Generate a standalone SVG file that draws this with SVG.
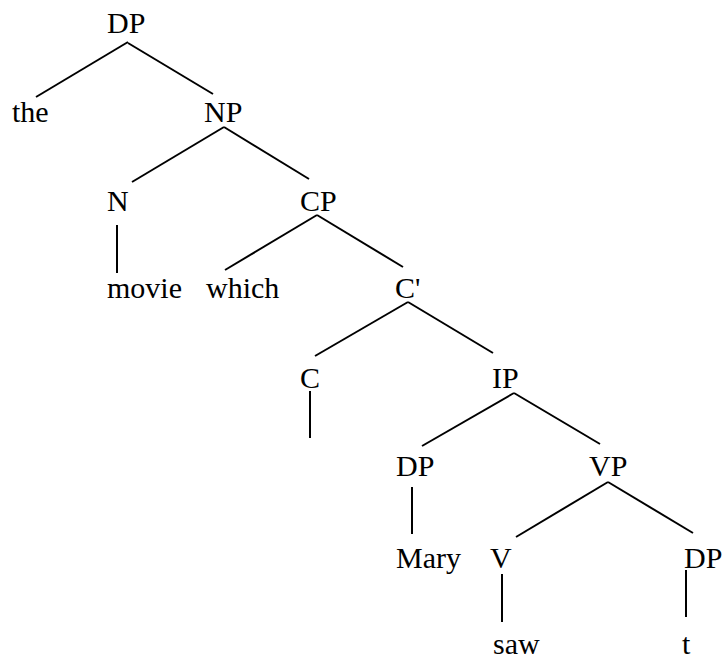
<svg xmlns="http://www.w3.org/2000/svg" width="725" height="654" viewBox="0 0 725 654">
  <style>
    .lbl { font-family: "Liberation Serif", "Times New Roman", serif; font-size: 30px; fill: #000; }
    .edge { stroke: #000; stroke-width: 2; fill: none; }
  </style>
  <rect width="725" height="654" fill="#fff"/>
  <g id="connectors">
    <line class="edge" x1="128" y1="42" x2="36" y2="97"/>
    <line class="edge" x1="128" y1="43" x2="213" y2="94"/>
    <line class="edge" x1="224" y1="127" x2="132" y2="182"/>
    <line class="edge" x1="224" y1="127" x2="309" y2="179"/>
    <line class="edge" x1="117" y1="225" x2="117" y2="273"/>
    <line class="edge" x1="317" y1="215" x2="225" y2="270"/>
    <line class="edge" x1="317" y1="215" x2="403" y2="267"/>
    <line class="edge" x1="408" y1="302" x2="315" y2="356"/>
    <line class="edge" x1="408" y1="302" x2="493" y2="353"/>
    <line class="edge" x1="310" y1="391" x2="310" y2="438"/>
    <line class="edge" x1="514" y1="393" x2="422" y2="446"/>
    <line class="edge" x1="514" y1="393" x2="600" y2="444"/>
    <line class="edge" x1="412" y1="487" x2="412" y2="534"/>
    <line class="edge" x1="608" y1="482" x2="516" y2="537"/>
    <line class="edge" x1="608" y1="482" x2="693" y2="533"/>
    <line class="edge" x1="502" y1="574" x2="502" y2="622"/>
    <line class="edge" x1="686" y1="570" x2="686" y2="617"/>
  </g>
  <g id="n-dp-top"><text class="lbl" x="107" y="33">DP</text></g>
  <g id="n-the"><text class="lbl" x="12" y="122">the</text></g>
  <g id="n-np"><text class="lbl" x="204" y="122">NP</text></g>
  <g id="n-n"><text class="lbl" x="107" y="211">N</text></g>
  <g id="n-cp"><text class="lbl" x="300" y="211">CP</text></g>
  <g id="n-movie"><text class="lbl" x="107" y="298">movie</text></g>
  <g id="n-which"><text class="lbl" x="206" y="298">which</text></g>
  <g id="n-cbar"><text class="lbl" x="395" y="298">C'</text></g>
  <g id="n-c"><text class="lbl" x="300" y="388">C</text></g>
  <g id="n-ip"><text class="lbl" x="492" y="388">IP</text></g>
  <g id="n-dp-subj"><text class="lbl" x="396" y="476">DP</text></g>
  <g id="n-vp"><text class="lbl" x="589" y="476">VP</text></g>
  <g id="n-mary"><text class="lbl" x="396" y="568">Mary</text></g>
  <g id="n-v"><text class="lbl" x="490" y="568">V</text></g>
  <g id="n-dp-obj"><text class="lbl" x="684" y="568">DP</text></g>
  <g id="n-saw"><text class="lbl" x="493" y="654">saw</text></g>
  <g id="n-t"><text class="lbl" x="682" y="654">t</text></g>
</svg>
